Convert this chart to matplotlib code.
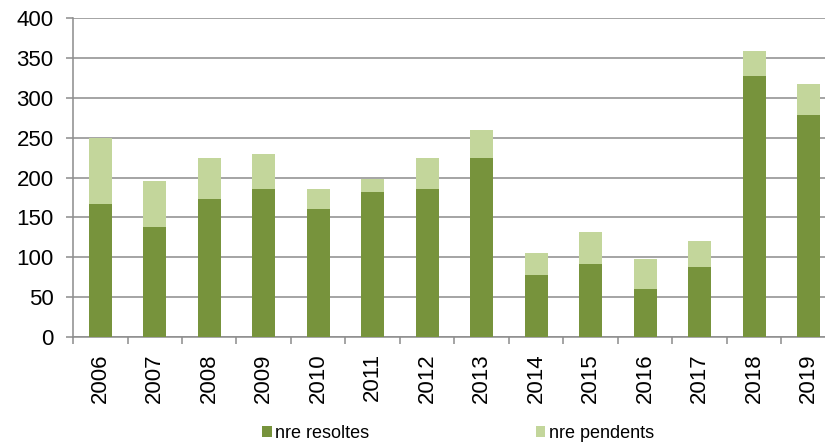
import matplotlib
matplotlib.use("Agg")
import matplotlib.pyplot as plt
import numpy as np

# data
years = ["2006", "2007", "2008", "2009", "2010", "2011", "2012",
         "2013", "2014", "2015", "2016", "2017", "2018", "2019"]
resoltes = [167, 138, 173, 186, 160, 182, 186, 224, 78, 91, 60, 87, 328, 279]
totals = [249, 195, 224, 229, 186, 198, 224, 260, 105, 132, 98, 120, 359, 317]
pendents = [t - r for t, r in zip(totals, resoltes)]

dark_green = "#77933C"
light_green = "#C3D69B"
grid_grey = "#8C8C8C"

plt.rcParams["font.family"] = ["Liberation Sans", "DejaVu Sans"]


def main():
    fig = plt.figure(figsize=(8.25, 4.45), dpi=100)
    ax = fig.add_axes([73 / 825, 1 - 336.7 / 445, 763 / 825, 318.4 / 445])

    x = np.arange(len(years))
    ax.bar(x, resoltes, width=0.42, color=dark_green, label="nre resoltes", zorder=3)
    ax.bar(x, pendents, width=0.42, bottom=resoltes, color=light_green,
           label="nre pendents", zorder=3)

    ax.set_xlim(-0.5, len(years) - 0.5)
    ax.set_ylim(0, 400)
    ax.set_yticks(np.arange(0, 401, 50))
    ax.yaxis.grid(True, color=grid_grey, linewidth=1.1, zorder=0)
    ax.set_axisbelow(True)

    ax.set_xticks(x)
    ax.set_xticklabels(years, rotation=90, fontsize=16)
    ax.set_xticks(np.arange(-0.5, len(years), 1.0), minor=True)
    ax.tick_params(axis="x", which="major", length=0, pad=12)
    ax.tick_params(axis="x", which="minor", length=5, width=1.1, color=grid_grey)
    ax.tick_params(axis="y", length=5, width=1.1, color=grid_grey, labelsize=16, pad=9)

    for side in ["top", "right"]:
        ax.spines[side].set_visible(False)
    for side in ["left", "bottom"]:
        ax.spines[side].set_color(grid_grey)
        ax.spines[side].set_linewidth(1.1)

    fig.legend(loc="center", bbox_to_anchor=(458 / 825, 1 - 433 / 445),
               ncol=2, frameon=False, fontsize=13, handlelength=0.55,
               handleheight=0.55, handletextpad=0.2, columnspacing=9.2)

    fig.savefig("out.png", dpi=100)
    plt.close(fig)


if __name__ == "__main__":
    main()
